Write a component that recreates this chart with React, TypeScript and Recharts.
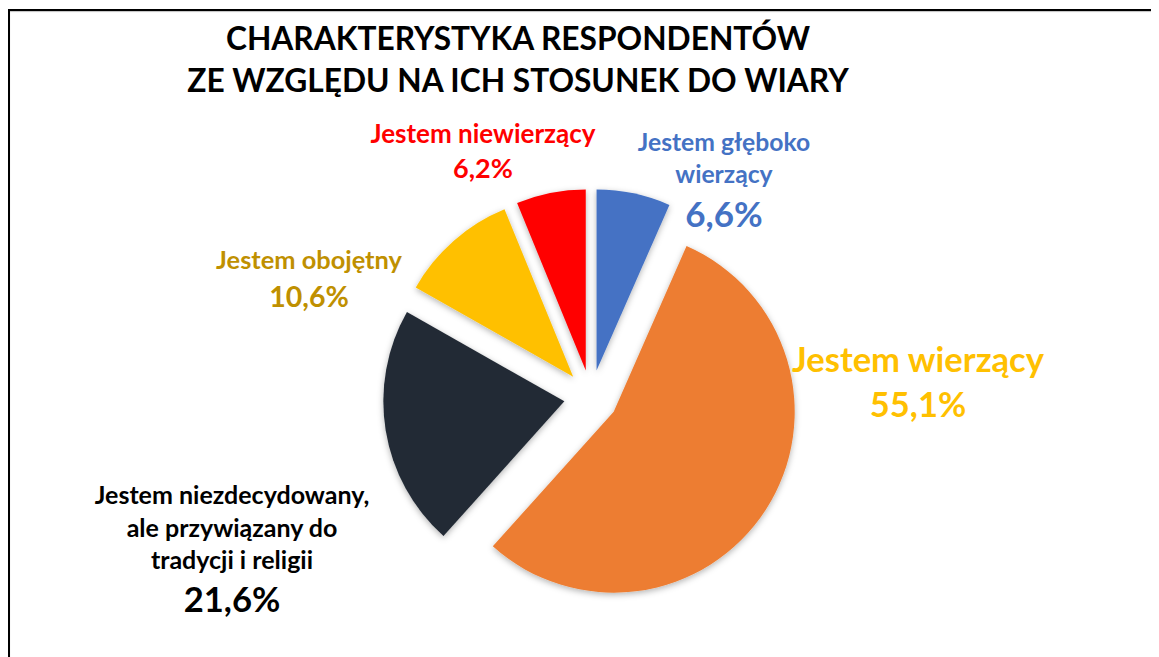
import { PieChart, Pie, Cell, Sector } from 'recharts'

// slices clockwise from 12 o'clock
const categories = [
  'Jestem głęboko wierzący',
  'Jestem wierzący',
  'Jestem niezdecydowany, ale przywiązany do tradycji i religii',
  'Jestem obojętny',
  'Jestem niewierzący',
]
const shares = [6.6, 55.1, 21.6, 10.6, 6.2]
const valueLabels = ['6,6%', '55,1%', '21,6%', '10,6%', '6,2%']

const sliceColors = ['#4472C4', '#ED7D31', '#222A35', '#FFC000', '#FF0000']
const textColors = ['#4472C4', '#FFC000', '#000000', '#BF9000', '#FF0000']

// label layout: text lines, centre x, first baseline y, line height, font sizes
const labelLayout = [
  { lines: ['Jestem głęboko', 'wierzący'], x: 716, y: 143, lh: 32, size: 24.7, valueSize: 35, valueGap: 44 },
  { lines: ['Jestem wierzący'], x: 910, y: 364, lh: 0, size: 34.6, valueSize: 34.5, valueGap: 45 },
  { lines: ['Jestem niezdecydowany,', 'ale przywiązany do', 'tradycji i religii'], x: 224, y: 496, lh: 32.5, size: 25, valueSize: 34.6, valueGap: 43 },
  { lines: ['Jestem obojętny'], x: 301, y: 261, lh: 0, size: 25.4, valueSize: 28.5, valueGap: 38 },
  { lines: ['Jestem niewierzący'], x: 475, y: 135, lh: 0, size: 26, valueSize: 27, valueGap: 35 },
]

const data = categories.map((name, i) => ({ name, value: shares[i] }))

const EXPLODE = 27
const FONT = 'Lato, "Open Sans", sans-serif'

// eslint-disable-next-line @typescript-eslint/no-explicit-any
const ExplodedSlice = (props: any) => {
  const a = (-props.midAngle * Math.PI) / 180
  return (
    <Sector
      {...props}
      cx={props.cx + EXPLODE * Math.cos(a)}
      cy={props.cy + EXPLODE * Math.sin(a)}
      stroke="none"
      filter="url(#sliceShadow)"
    />
  )
}

// eslint-disable-next-line @typescript-eslint/no-explicit-any
const SliceLabel = (props: any) => {
  const i = props.index
  const l = labelLayout[i]
  const lastY = l.y + l.lh * (l.lines.length - 1)
  return (
    <g key={`lbl-${i}`}>
      <text textAnchor="middle" fill={textColors[i]} fontFamily={FONT} fontWeight={700} fontSize={l.size}>
        {l.lines.map((t, k) => (
          <tspan key={k} x={l.x} y={l.y + l.lh * k}>
            {t}
          </tspan>
        ))}
      </text>
      <text
        x={l.x}
        y={lastY + l.valueGap}
        textAnchor="middle"
        fill={textColors[i]}
        fontFamily={FONT}
        fontWeight={700}
        fontSize={l.valueSize}
      >
        {valueLabels[i]}
      </text>
    </g>
  )
}

export default function App() {
  return (
    <div style={{ position: 'relative', width: 1151, height: 649, background: '#fff' }}>
      <div
        style={{
          position: 'absolute',
          left: 0,
          top: 1,
          right: 0,
          bottom: 0,
          borderTop: '2px solid #000',
          borderLeft: '2px solid #000',
          boxShadow: 'inset 0 1px 1px rgba(0,0,0,0.25)',
        }}
      />
      <div
        style={{
          position: 'absolute',
          left: 0,
          width: 1020,
          top: 9,
          textAlign: 'center',
          fontFamily: FONT,
          fontWeight: 700,
          fontSize: 31.7,
          lineHeight: '42px',
          color: '#000',
        }}
      >
        CHARAKTERYSTYKA RESPONDENTÓW
        <br />
        ZE WZGLĘDU NA ICH STOSUNEK DO WIARY
      </div>
      <div style={{ position: 'absolute', left: 0, top: 0 }}>
        <PieChart width={1151} height={649}>
          <defs>
            <filter id="sliceShadow" x="-20%" y="-20%" width="140%" height="140%">
              <feDropShadow dx="0" dy="2" stdDeviation="3" floodColor="#000" floodOpacity="0.3" />
            </filter>
          </defs>
          <Pie
            data={data}
            dataKey="value"
            nameKey="name"
            cx={578}
            cy={384}
            outerRadius={181}
            startAngle={90}
            endAngle={-270}
            stroke="none"
            shape={ExplodedSlice}
            activeShape={ExplodedSlice}
            inactiveShape={ExplodedSlice}
            label={SliceLabel}
            labelLine={false}
            isAnimationActive={false}
          >
            {data.map((d, i) => (
              <Cell key={d.name} fill={sliceColors[i]} />
            ))}
          </Pie>
        </PieChart>
      </div>
    </div>
  )
}
